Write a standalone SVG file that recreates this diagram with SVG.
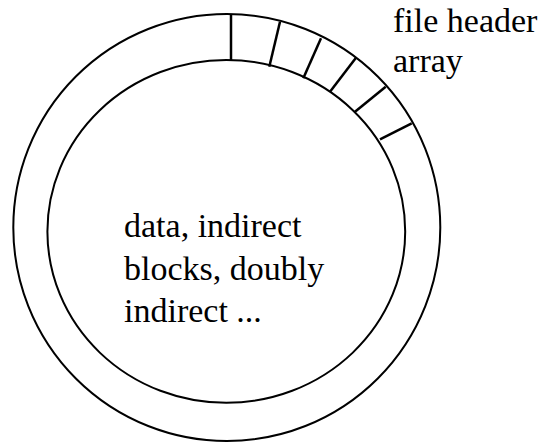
<svg xmlns="http://www.w3.org/2000/svg" width="545" height="442" viewBox="0 0 545 442">
<style>
.ring{fill:none;stroke:#000;stroke-width:2}
.tick{stroke:#000;stroke-width:2.5;fill:none}
.lbl{font-family:'Liberation Serif','Times New Roman',serif;font-size:34px;fill:#000}
</style>
<rect width="545" height="442" fill="#fff"/>
<g id="disk">
<circle class="ring" cx="226.8" cy="227.5" r="213.5"/>
<ellipse class="ring" cx="226.3" cy="231.4" rx="178.9" ry="171.4"/>
</g>
<g id="header-array">
<line class="tick" x1="231" y1="14" x2="231" y2="60"/>
<line class="tick" x1="280" y1="21.7" x2="269.3" y2="66.7"/>
<line class="tick" x1="321" y1="38.3" x2="303.3" y2="78.3"/>
<line class="tick" x1="356" y1="57.7" x2="330" y2="91.7"/>
<line class="tick" x1="385.7" y1="86.7" x2="355" y2="111.7"/>
<line class="tick" x1="411.7" y1="123.3" x2="380" y2="139.3"/>
</g>
<g id="label-header">
<text class="lbl" x="393" y="32">file header</text>
<text class="lbl" x="393" y="72">array</text>
</g>
<g id="label-data">
<text class="lbl" x="124" y="237">data, indirect</text>
<text class="lbl" x="124" y="279.5">blocks, doubly</text>
<text class="lbl" x="124" y="322">indirect ...</text>
</g>
</svg>
